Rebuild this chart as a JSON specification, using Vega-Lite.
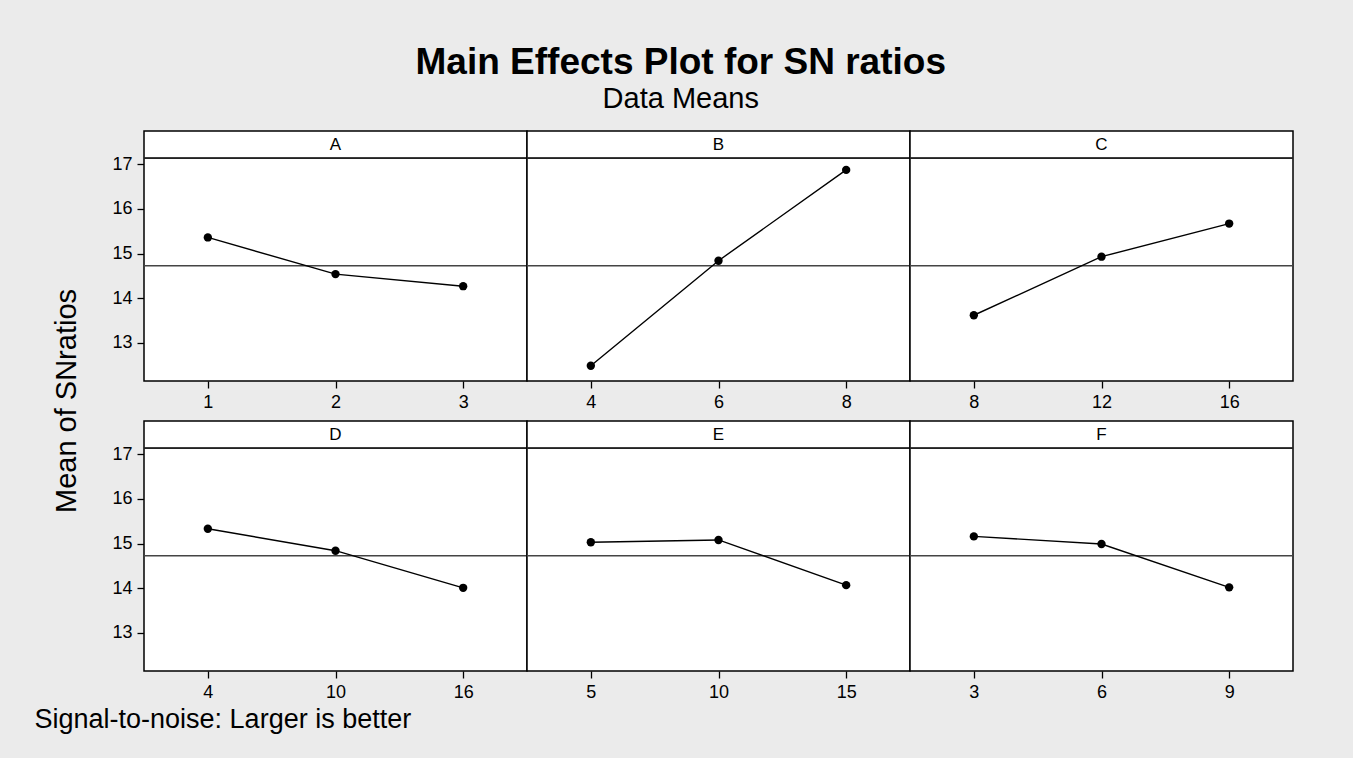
{
  "$schema": "https://vega.github.io/schema/vega-lite/v6.json",
  "background": "#ebebeb",
  "padding": {"left": 27, "top": 44, "right": 61, "bottom": 25},
  "title": {
    "text": "Main Effects Plot for SN ratios",
    "subtitle": "Data Means",
    "font": "Liberation Sans",
    "fontSize": 37,
    "fontWeight": "bold",
    "color": "#000",
    "subtitleFont": "Liberation Sans",
    "subtitleFontSize": 29,
    "subtitleColor": "#000",
    "subtitlePadding": 3,
    "anchor": "middle",
    "offset": 15,
    "dx": 20
  },
  "datasets": {
    "sn": [
      {"factor": "A", "level": 1, "sn": 15.36},
      {"factor": "A", "level": 2, "sn": 14.54},
      {"factor": "A", "level": 3, "sn": 14.27},
      {"factor": "B", "level": 4, "sn": 12.49},
      {"factor": "B", "level": 6, "sn": 14.84},
      {"factor": "B", "level": 8, "sn": 16.87},
      {"factor": "C", "level": 8, "sn": 13.62},
      {"factor": "C", "level": 12, "sn": 14.93},
      {"factor": "C", "level": 16, "sn": 15.67},
      {"factor": "D", "level": 4, "sn": 15.33},
      {"factor": "D", "level": 10, "sn": 14.84},
      {"factor": "D", "level": 16, "sn": 14.01},
      {"factor": "E", "level": 5, "sn": 15.03},
      {"factor": "E", "level": 10, "sn": 15.08},
      {"factor": "E", "level": 15, "sn": 14.07},
      {"factor": "F", "level": 3, "sn": 15.16},
      {"factor": "F", "level": 6, "sn": 14.99},
      {"factor": "F", "level": 9, "sn": 14.02}
    ]
  },
  "vconcat": [
    {
      "hconcat": [
        {
          "width": 80,
          "height": 540,
          "view": {"stroke": null, "fill": null},
          "data": {"values": [{"t": "Mean of SNratios"}]},
          "mark": {"type": "text", "angle": 270, "fontSize": 29, "font": "Liberation Sans", "color": "#000"},
          "encoding": {"text": {"field": "t", "type": "nominal"}}
        },
        {
          "data": {"name": "sn"},
          "transform": [
            {"joinaggregate": [{"op": "mean", "field": "sn", "as": "grand"}]},
            {"window": [{"op": "row_number", "as": "rank"}], "groupby": ["factor"], "sort": [{"field": "level", "order": "ascending"}]}
          ],
          "facet": {"field": "factor", "type": "nominal", "header": {"labelExpr": "''", "labelFontSize": 0, "labelPadding": 0, "title": null}},
          "columns": 3,
          "bounds": "flush",
          "spacing": {"column": 0, "row": 40},
          "resolve": {"scale": {"x": "independent"}, "axis": {"x": "independent"}},
          "spec": {
            "width": 383,
            "height": 250,
            "layer": [
              {
                "mark": {"type": "rule", "color": "#444", "strokeWidth": 1.5},
                "encoding": {"y": {"aggregate": "mean", "field": "grand", "type": "quantitative",
                  "scale": {"domain": [12.15, 17.74], "nice": false, "zero": false},
                  "axis": {"values": [13, 14, 15, 16, 17], "title": null}}}
              },
              {
                "mark": {"type": "rule", "color": "#222", "strokeWidth": 1.5},
                "encoding": {"y": {"datum": 17.13, "type": "quantitative"}}
              },
              {
                "mark": {"type": "line", "color": "#000", "strokeWidth": 1.4},
                "encoding": {
                  "x": {"field": "level", "type": "ordinal", "title": null},
                  "y": {"field": "sn", "type": "quantitative"}
                }
              },
              {
                "mark": {"type": "circle", "color": "#000", "opacity": 1, "size": 70},
                "encoding": {
                  "x": {"field": "level", "type": "ordinal", "title": null},
                  "y": {"field": "sn", "type": "quantitative"}
                }
              },
              {
                "transform": [{"filter": "datum.rank == 2"}],
                "mark": {"type": "text", "fontSize": 17, "font": "Liberation Sans", "color": "#000"},
                "encoding": {
                  "x": {"field": "level", "type": "ordinal", "title": null},
                  "y": {"datum": 17.43, "type": "quantitative"},
                  "text": {"field": "factor", "type": "nominal"}
                }
              }
            ]
          }
        }
      ],
      "spacing": 4
    },
    {
      "width": 1,
      "height": 20,
      "view": {"stroke": null, "fill": null},
      "data": {"values": [{"t": "Signal-to-noise: Larger is better"}]},
      "mark": {"type": "text", "align": "left", "dx": 7, "fontSize": 27, "font": "Liberation Sans", "color": "#000"},
      "encoding": {"text": {"field": "t", "type": "nominal"}}
    }
  ],
  "spacing": 4,
  "config": {
    "view": {"stroke": "#000", "strokeWidth": 1.5, "fill": "white"},
    "axis": {
      "grid": false,
      "domain": false,
      "tickColor": "#000",
      "tickSize": 7,
      "tickWidth": 1.3,
      "labelFont": "Liberation Sans",
      "labelFontSize": 18,
      "labelColor": "#000",
      "title": null
    },
    "axisX": {"labelAngle": 0, "labelPadding": 5},
    "axisY": {"labelPadding": 5}
  }
}
